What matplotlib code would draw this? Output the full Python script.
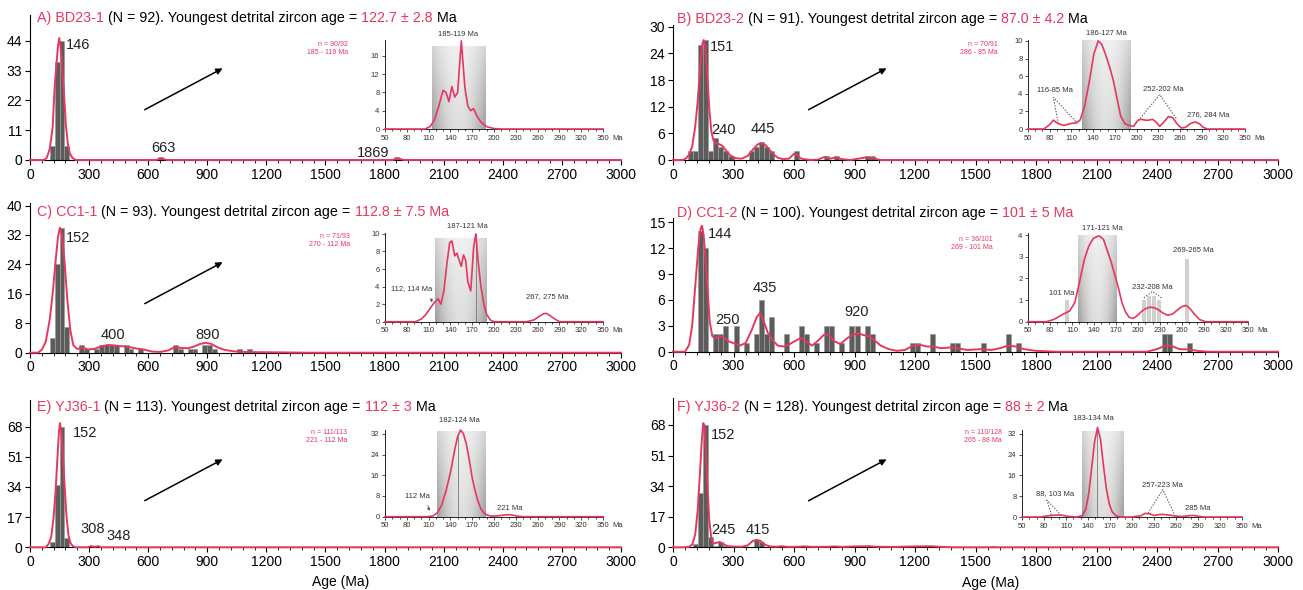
import matplotlib.pyplot as plt
import numpy as np
from matplotlib.ticker import FixedLocator, MultipleLocator

plt.rcParams["font.family"] = ["Liberation Sans", "DejaVu Sans"]

W, H = 1303, 590
RED = "#e6375f"
BAR = "#5c5c5c"
BIN = 25

# --- A) BD23-1 ---------------------------------------------------------------
a_bins = [100, 125, 150, 175, 650, 1850]
a_counts = [5, 36, 44, 5, 1, 1]
a_age = [0, 70, 85, 100, 115, 125, 135, 142, 148, 155, 162, 172, 182, 192, 202, 215, 232,
         640, 655, 667, 680, 695, 1840, 1858, 1869, 1882, 1900, 3000]
a_dens = [0, 0, 0.8, 4, 12, 27, 36, 42, 45, 42, 35, 25, 13, 6, 2.5, 0.8, 0,
          0, 0.3, 0.6, 0.3, 0, 0, 0.3, 0.6, 0.3, 0, 0]
a_peaks = ["146", "663", "1869"]
a_in_age = [50, 105, 112, 118, 124, 130, 134, 138, 142, 146, 150, 155, 160, 164, 168, 172,
            176, 182, 190, 200, 210, 350]
a_in_dens = [0, 0, 0.5, 2, 5, 8.5, 8, 6, 9.3, 7, 8, 19.3, 9, 5, 4, 4.5, 3, 1.5, 0.5, 0.1, 0, 0]
a_title = ("A) BD23-1", " (N = 92). Youngest detrital zircon age = ", "122.7 ± 2.8", " Ma")
a_note = "n = 90/92\n185 - 119 Ma"
a_in_labels = ["185-119 Ma"]

# --- B) BD23-2 ---------------------------------------------------------------
b_bins = [75, 100, 125, 150, 175, 200, 225, 250, 275, 375, 400, 425, 450, 475, 600, 750, 800,
          950, 975]
b_counts = [2, 2, 26, 27, 2, 5, 3, 2, 1, 2, 3, 4, 3, 2, 2, 1, 1, 1, 1]
b_age = [0, 50, 65, 80, 95, 110, 122, 135, 145, 152, 160, 170, 180, 190, 200, 212, 228, 245,
         265, 285, 310, 340, 370, 395, 420, 440, 460, 480, 500, 520, 545, 575, 600, 615, 635,
         680, 720, 752, 780, 808, 835, 880, 920, 960, 990, 1030, 3000]
b_dens = [0, 0, 0.4, 1.2, 3, 7.5, 13, 21, 26, 27, 25.5, 19, 11.5, 6.5, 4.5, 3.8, 3.6, 3.2,
          2, 1, 0.4, 0.3, 0.9, 2.3, 3.5, 3.8, 3.3, 2.2, 1.2, 0.5, 0.2, 0.3, 1.4, 1.2, 0.3,
          0, 0.1, 0.7, 0.3, 0.6, 0.2, 0, 0.3, 0.6, 0.4, 0, 0]
b_peaks = ["151", "240", "445"]
b_in_age = [50, 72, 80, 85, 92, 100, 108, 116, 122, 128, 135, 141, 147, 152, 157, 163, 168,
            173, 178, 184, 190, 196, 202, 207, 212, 217, 222, 227, 232, 238, 244, 250, 256,
            262, 268, 274, 281, 287, 292, 298, 350]
b_in_dens = [0, 0, 0.5, 1, 0.6, 0.4, 0.6, 0.7, 1, 2.5, 5.5, 8.5, 10, 9.6, 8.5, 7, 5.5, 3.5,
             1.5, 0.6, 0.4, 0.3, 1.0, 1.1, 1.0, 1.0, 1.1, 0.8, 0.3, 0.8, 1.4, 1.3, 0.6, 0.1,
             0.2, 0.6, 0.8, 0.6, 0.2, 0, 0]
b_title = ("B) BD23-2", " (N = 91). Youngest detrital zircon age = ", "87.0 ± 4.2", " Ma")
b_note = "n = 70/91\n286 - 85 Ma"
b_in_labels = ["186-127 Ma", "116-85 Ma", "252-202 Ma", "276, 284 Ma"]

# --- C) CC1-1 ----------------------------------------------------------------
c_bins = [100, 125, 150, 175, 250, 275, 325, 350, 375, 400, 425, 475, 500, 550, 725, 750,
          800, 825, 875, 900, 925, 1050, 1100]
c_counts = [4, 24, 34, 7, 2, 1, 1, 2, 2, 2, 2, 2, 1, 1, 2, 1, 1, 1, 2, 2, 1, 1, 1]
c_age = [0, 40, 60, 80, 100, 115, 130, 142, 152, 162, 175, 190, 205, 220, 240, 265, 295,
         325, 360, 395, 425, 455, 485, 515, 545, 575, 620, 660, 700, 735, 765, 800, 830, 860,
         890, 920, 950, 985, 1030, 1080, 1150, 1250, 1400, 3000]
c_dens = [0, 0, 0.8, 3, 9, 16, 25, 31.5, 34, 32, 25, 14, 6, 2, 1, 1.4, 0.9, 1, 1.7, 2.1, 2,
          1.8, 1.7, 1.4, 1.1, 0.9, 0.3, 0.2, 0.6, 1.5, 1.3, 1.2, 1.6, 2.3, 2.7, 2.4, 1.5,
          0.8, 0.4, 0.2, 0.15, 0.1, 0, 0]
c_peaks = ["152", "400", "890"]
c_in_age = [50, 92, 100, 106, 112, 118, 123, 127, 131, 135, 139, 142, 146, 149, 152, 155,
            158, 161, 164, 168, 172, 175, 178, 182, 186, 190, 195, 200, 210, 245, 255, 262,
            268, 272, 277, 282, 290, 350]
c_in_dens = [0, 0, 0.3, 0.8, 1.5, 2.2, 2.6, 2.0, 3.5, 6.5, 9.0, 9.2, 7.5, 7.8, 7.0, 6.3,
             7.6, 7.0, 4.5, 3.5, 8.5, 10, 7, 4, 2, 0.8, 0.2, 0, 0, 0, 0.2, 0.6, 0.9, 0.95,
             0.7, 0.4, 0, 0]
c_title = ("C) CC1-1", " (N = 93). Youngest detrital zircon age = ", "112.8 ± 7.5 Ma", "")
c_note = "n = 71/93\n270 - 112 Ma"
c_in_labels = ["187-121 Ma", "112, 114 Ma", "267, 275 Ma"]

# --- D) CC1-2 ----------------------------------------------------------------
d_bins = [125, 150, 200, 225, 250, 300, 350, 400, 425, 450, 475, 550, 625, 650, 700, 750,
          775, 825, 875, 900, 950, 975, 1175, 1200, 1275, 1375, 1400, 1525, 1650, 1700,
          2425, 2450, 2550]
d_counts = [14, 12, 2, 2, 3, 3, 1, 2, 6, 2, 4, 2, 3, 2, 1, 3, 3, 1, 3, 3, 3, 2, 1, 1, 2, 1,
            1, 1, 2, 1, 2, 2, 1]
d_age = [0, 60, 80, 95, 110, 125, 137, 144, 152, 162, 172, 182, 195, 210, 225, 250, 275,
         300, 330, 360, 390, 415, 432, 450, 470, 495, 520, 550, 580, 610, 635, 660, 690, 720,
         750, 775, 800, 830, 860, 890, 920, 950, 975, 1000, 1030, 1070, 1110, 1150, 1190,
         1225, 1260, 1290, 1330, 1380, 1410, 1460, 1530, 1580, 1620, 1660, 1700, 1740, 1800,
         1900, 2350, 2400, 2440, 2470, 2510, 2560, 2600, 2650, 3000]
d_dens = [0, 0, 0.8, 3, 7.5, 12, 14.3, 14.6, 13.5, 10.5, 7, 3.5, 1.8, 1.5, 1.8, 1.7, 1.2,
          1, 0.7, 1, 2.5, 4, 4.5, 3.5, 2.2, 1.3, 0.7, 0.6, 0.9, 1.3, 1.6, 1.2, 0.7, 1.3, 2,
          1.9, 1.2, 0.9, 1.5, 2, 2.1, 1.9, 1.8, 1.3, 0.7, 0.3, 0.1, 0.2, 0.7, 0.8, 0.6, 0.6,
          0.4, 0.5, 0.4, 0.2, 0.3, 0.2, 0.4, 0.7, 0.6, 0.3, 0.1, 0, 0, 0.3, 0.7, 0.7, 0.3,
          0.25, 0.1, 0, 0]
d_peaks = ["144", "250", "435", "920"]
d_in_age = [50, 75, 85, 98, 107, 114, 120, 127, 133, 139, 145, 148, 153, 158, 163, 168, 173,
            178, 183, 188, 193, 198, 204, 210, 216, 222, 228, 234, 240, 247, 254, 260, 266,
            271, 277, 284, 292, 350]
d_in_dens = [0, 0, 0.1, 0.35, 0.5, 0.9, 1.8, 2.9, 3.5, 3.85, 3.95, 3.95, 3.8, 3.3, 2.8, 2.2,
             1.6, 0.9, 0.45, 0.2, 0.15, 0.25, 0.45, 0.6, 0.67, 0.65, 0.55, 0.4, 0.3, 0.35,
             0.55, 0.7, 0.75, 0.6, 0.35, 0.1, 0, 0]
d_in_grains = [103, 207, 214, 221, 228, 266]
d_in_counts = [1.0, 1.0, 1.2, 1.2, 1.0, 2.9]
d_title = ("D) CC1-2", " (N = 100). Youngest detrital zircon age = ", "101 ± 5 Ma", "")
d_note = "n = 36/101\n269 - 101 Ma"
d_in_labels = ["171-121 Ma", "101 Ma", "232-208 Ma", "269-265 Ma"]

# --- E) YJ36-1 ---------------------------------------------------------------
e_bins = [100, 125, 150, 175, 300, 325]
e_counts = [3, 35, 68, 5, 1, 1]
e_age = [0, 80, 95, 108, 120, 130, 140, 147, 152, 158, 165, 175, 185, 195, 205, 218, 232,
         295, 308, 320, 330, 340, 348, 360, 3000]
e_dens = [0, 0, 2, 6, 17, 32, 52, 65, 70, 66, 56, 36, 18, 7, 2.5, 0.6, 0, 0, 0.7, 0.4, 0.3,
          0.5, 0.6, 0, 0]
e_peaks = ["152", "308", "348"]
e_in_age = [50, 108, 116, 122, 128, 134, 140, 146, 150, 154, 158, 162, 166, 170, 174, 178,
            182, 186, 190, 196, 204, 213, 220, 226, 232, 240, 350]
e_in_dens = [0, 0, 0.3, 1.5, 4.5, 10, 17, 26, 31, 33.5, 32, 28, 22, 15, 10, 6, 3, 1.5, 0.7,
             0.2, 0.3, 0.6, 0.8, 0.6, 0.2, 0, 0]
e_title = ("E) YJ36-1", " (N = 113). Youngest detrital zircon age = ", "112 ± 3", " Ma")
e_note = "n = 111/113\n221 - 112 Ma"
e_in_labels = ["182-124 Ma", "112 Ma", "221 Ma"]

# --- F) YJ36-2 ---------------------------------------------------------------
f_bins = [100, 125, 150, 175, 200, 225, 250, 400, 425, 475, 525, 650, 775, 900, 975, 1025,
          1200, 1275, 1325, 1575]
f_counts = [2, 30, 68, 6, 1, 3, 1, 4, 3, 1, 1, 1, 1, 1, 1, 1, 1, 1, 1, 1]
f_age = [0, 50, 80, 95, 110, 122, 133, 143, 150, 155, 162, 170, 180, 190, 200, 215, 232,
         250, 270, 300, 340, 370, 395, 415, 435, 455, 480, 510, 540, 570, 620, 650, 690, 770,
         800, 840, 900, 970, 1010, 1100, 1200, 1280, 1330, 1400, 3000]
f_dens = [0, 0, 0.3, 1.5, 7, 20, 40, 60, 69, 68, 57, 35, 15, 5, 2, 2.5, 3, 1.8, 0.6, 0.4,
          0.3, 1, 3.5, 4.2, 3.5, 1.5, 0.5, 0.3, 0.6, 0.2, 0.3, 0.5, 0.2, 0.3, 0.5, 0.2, 0.5,
          0.6, 0.3, 0.2, 0.5, 0.6, 0.2, 0, 0]
f_peaks = ["152", "245", "415"]
f_in_age = [50, 75, 84, 90, 96, 102, 108, 114, 124, 132, 137, 141, 145, 149, 153, 157, 161,
            165, 169, 173, 178, 184, 200, 212, 218, 224, 230, 236, 242, 248, 254, 262, 270,
            277, 284, 290, 298, 350]
f_in_dens = [0, 0, 0.4, 0.6, 0.7, 0.8, 0.5, 0.2, 0, 0.5, 3, 9, 19, 29, 34.5, 30, 20, 11, 5,
             2, 0.5, 0, 0, 0.5, 1.4, 1.2, 0.6, 0.9, 1.0, 0.8, 0.6, 0.3, 0.2, 0.5, 0.6, 0.3,
             0, 0]
f_title = ("F) YJ36-2", " (N = 128). Youngest detrital zircon age = ", "88 ± 2", " Ma")
f_note = "n = 110/128\n265 - 88 Ma"
f_in_labels = ["183-134 Ma", "88, 103 Ma", "257-223 Ma", "285 Ma"]

INSET_TICKS = list(range(50, 351, 30))


def axes_px(fig, left, right, top, bottom):
    return fig.add_axes([left / W, 1 - bottom / H, (right - left) / W, (bottom - top) / H])


def style_axis(ax):
    for side in ("top", "right"):
        ax.spines[side].set_visible(False)
    for side in ("left", "bottom"):
        ax.spines[side].set_linewidth(0.8)
    ax.set_facecolor("none")


def colored_title(fig, x, y, parts):
    colors = [RED, "black", RED, "black"]
    t = fig.text(x / W, 1 - y / H, parts[0], color=colors[0], fontsize=10.3, va="center")
    for s, c in zip(parts[1:], colors[1:]):
        if not s:
            continue
        t = fig.add_artist(plt.Annotation(s, xy=(1, 0), xycoords=t, xytext=(0, 0),
                                          textcoords="offset points", color=c, fontsize=10.3,
                                          va="bottom", ha="left"))


def draw_main(ax, bins, counts, age, dens, ymax, ystep, peaks, peak_xy, arrow):
    ax.bar(bins, counts, width=BIN, align="edge", color=BAR, edgecolor="#9a9a9a", lw=0.5,
           zorder=2)
    ax.plot(age, dens, color=RED, lw=1.4, zorder=4, clip_on=False)
    ax.set_xlim(0, 3000)
    ax.set_ylim(0, ymax)
    ax.xaxis.set_major_locator(MultipleLocator(300))
    ax.xaxis.set_minor_locator(MultipleLocator(60))
    ax.set_yticks(np.arange(0, ymax + 0.01, ystep))
    ax.tick_params(which="major", direction="out", length=3.5, width=0.8, labelsize=10, pad=2)
    ax.tick_params(which="minor", direction="out", length=2, width=0.6)
    style_axis(ax)
    for label, (x, y) in zip(peaks, peak_xy):
        ax.text(x, y, label, ha="center", va="center", fontsize=10.5, color="#222222")
    if arrow:
        ax.annotate("", xy=arrow[1], xytext=arrow[0], xycoords="axes fraction",
                    arrowprops=dict(arrowstyle="-|>", color="black", lw=1.1,
                                    mutation_scale=9))


def shade(ax, x0, x1, top):
    # grey band over the main age cluster, darker at its edges and fading upwards
    u = np.linspace(0, 1, 80)
    v = np.linspace(0, 1, 40)
    alpha = (0.22 + 0.45 * np.abs(2 * u - 1) ** 2)[None, :] * (1 - 0.55 * v)[:, None]
    rgba = np.zeros((40, 80, 4))
    rgba[..., :3] = 0.42
    rgba[..., 3] = alpha
    ax.imshow(rgba, extent=(x0, x1, 0, top), origin="lower", aspect="auto", zorder=1,
              interpolation="bilinear")


def draw_inset(ax, age, dens, ymax, ystep, span, labels, label_xy):
    shade(ax, span[0], span[1], span[2])
    ax.plot(age, dens, color=RED, lw=1.2, zorder=4, clip_on=False)
    ax.set_xlim(50, 350)
    ax.set_ylim(0, ymax)
    ax.xaxis.set_major_locator(FixedLocator(INSET_TICKS))
    ax.xaxis.set_minor_locator(MultipleLocator(10))
    ax.set_yticks(np.arange(0, ymax + 0.01, ystep))
    ax.tick_params(which="major", direction="out", length=2.5, width=0.6, labelsize=5.5,
                   pad=1.5, colors="#333333")
    ax.tick_params(which="minor", direction="out", length=1.5, width=0.5)
    style_axis(ax)
    for side in ("left", "bottom"):
        ax.spines[side].set_linewidth(0.6)
    ax.annotate("Ma", xy=(1, 0), xycoords="axes fraction", xytext=(7, -4),
                textcoords="offset points", fontsize=5.5, va="top", ha="left",
                color="#333333")
    for label, (x, y) in zip(labels, label_xy):
        ax.text(x, y, label, ha="center", va="center", fontsize=5.5, color="#333333",
                clip_on=False)


def dotted(ax, xs, ys):
    ax.plot(xs, ys, color="#555555", lw=0.7, ls=(0, (1.5, 1.5)), zorder=3)


fig = plt.figure(figsize=(W / 100, H / 100), dpi=100)

# main panels
ax_a = axes_px(fig, 30, 621, 15, 160)
draw_main(ax_a, a_bins, a_counts, a_age, a_dens, 53.5, 11, a_peaks,
          [(244, 42.4), (675, 4.4), (1741, 2.6)], ((0.19, 0.338), (0.33, 0.641)))
ax_b = axes_px(fig, 673, 1278, 25, 160)
draw_main(ax_b, b_bins, b_counts, b_age, b_dens, 30.4, 6, b_peaks,
          [(243, 25.5), (248, 6.8), (446, 7)], ((0.22, 0.363), (0.357, 0.689)))
ax_c = axes_px(fig, 30, 621, 203, 352.7)
draw_main(ax_c, c_bins, c_counts, c_age, c_dens, 40.7, 8, c_peaks,
          [(244, 31.2), (421, 4.8), (904, 4.8)], ((0.19, 0.319), (0.33, 0.613)))
ax_d = axes_px(fig, 673, 1278, 218, 351.7)
draw_main(ax_d, d_bins, d_counts, d_age, d_dens, 15.5, 3, d_peaks,
          [(233, 13.6), (268, 3.7), (456, 7.4), (912, 4.6)], None)
ax_e = axes_px(fig, 30, 621, 400, 547.3)
draw_main(ax_e, e_bins, e_counts, e_age, e_dens, 83, 17, e_peaks,
          [(279, 64.4), (320, 10.3), (452, 6.4)], ((0.19, 0.308), (0.33, 0.606)))
ax_f = axes_px(fig, 673, 1278, 398, 547.3)
draw_main(ax_f, f_bins, f_counts, f_age, f_dens, 83, 17, f_peaks,
          [(248, 62.4), (248, 9.6), (421, 9.6)], ((0.22, 0.303), (0.357, 0.598)))

for ax in (ax_e, ax_f):
    ax.text(0.525, -0.236, "Age (Ma)", transform=ax.transAxes, ha="center", va="center",
            fontsize=10)

# titles
colored_title(fig, 37, 18, a_title)
colored_title(fig, 677, 19, b_title)
colored_title(fig, 37, 212, c_title)
colored_title(fig, 677, 213, d_title)
colored_title(fig, 37, 407, e_title)
colored_title(fig, 677, 407, f_title)

# red summary notes beside the insets
for note, x, y in [(a_note, 348, 48), (b_note, 998, 48), (c_note, 350, 240),
                   (d_note, 993, 244), (e_note, 347, 436), (f_note, 1002, 436)]:
    fig.text(x / W, 1 - y / H, note, color=RED, fontsize=5, ha="right", va="center",
             linespacing=1.2)

# insets
in_a = axes_px(fig, 385, 603, 40, 129)
draw_inset(in_a, a_in_age, a_in_dens, 19.5, 4, (114, 187, 18), a_in_labels, [(150, 20.6)])

in_b = axes_px(fig, 1028, 1245, 40, 129)
draw_inset(in_b, b_in_age, b_in_dens, 10.1, 2, (124, 191, 10.1), b_in_labels,
           [(159, 10.8), (87, 4.4), (237, 4.5), (299, 1.6)])
dotted(in_b, [92, 85, 120], [0.6, 3.6, 0.5])
dotted(in_b, [205, 232, 255], [1.2, 3.9, 1.2])

in_c = axes_px(fig, 385, 603, 233, 321.7)
draw_inset(in_c, c_in_age, c_in_dens, 10.1, 2, (119, 190, 9.5), c_in_labels,
           [(163, 10.8), (87, 3.8), (273, 2.9)])
in_c.axvline(175, ymax=10 / 10.1, color="#777777", lw=0.6, zorder=3)
in_c.annotate("", xy=(116, 1.9), xytext=(112, 3.0),
              arrowprops=dict(arrowstyle="-|>", color="#555555", lw=0.5, mutation_scale=4))

in_d = axes_px(fig, 1028, 1248, 233, 321.7)
in_d.bar(d_in_grains, d_in_counts, width=4, color="#d2d2d2", edgecolor="#bbbbbb", lw=0.4,
         zorder=2)
draw_inset(in_d, d_in_age, d_in_dens, 4.1, 1, (118, 170, 4.0), d_in_labels,
           [(152, 4.3), (96, 1.3), (220, 1.6), (275, 3.3)])
dotted(in_d, [208, 220, 232], [1.1, 1.4, 1.1])

in_e = axes_px(fig, 385, 603, 430, 516.7)
draw_inset(in_e, e_in_age, e_in_dens, 33.5, 8, (121, 188, 33), e_in_labels,
           [(153, 37.2), (94, 7.9), (221, 3.3)])
in_e.axvline(151, ymax=31 / 33.5, color="#777777", lw=0.6, zorder=3)
in_e.annotate("", xy=(112, 1.2), xytext=(108, 5.5),
              arrowprops=dict(arrowstyle="-|>", color="#555555", lw=0.5, mutation_scale=4))

in_f = axes_px(fig, 1022, 1242, 430, 517)
draw_inset(in_f, f_in_age, f_in_dens, 33.5, 8, (132, 189, 33), f_in_labels,
           [(147, 38), (95, 9.1), (241, 12.2), (290, 3.4)])
in_f.axvline(152, ymax=33 / 33.5, color="#777777", lw=0.6, zorder=3)
dotted(in_f, [90, 84, 103], [0.8, 6.5, 0.8])
dotted(in_f, [222, 242, 258], [1.5, 10.5, 1.0])

fig.savefig("out.png", dpi=100)
